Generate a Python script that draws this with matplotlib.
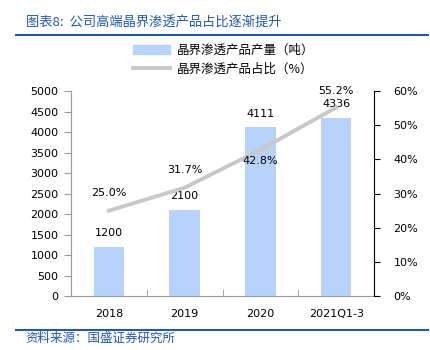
import numpy as np
import matplotlib.pyplot as plt
from matplotlib.lines import Line2D

plt.rcParams['font.family'] = ['DejaVu Sans', 'Noto Sans CJK SC']

categories = ['2018', '2019', '2020', '2021Q1-3']
output = [1200, 2100, 4111, 4336]
share = [25.0, 31.7, 42.8, 55.2]
share_offset = [13, 13, -8, 12]   # label offsets in points (above / below the line)

blue = '#2458A8'
bar_color = '#B7D3FB'
line_color = '#C8C8C8'
cjk = ['Noto Sans CJK SC', 'DejaVu Sans']

fig = plt.figure(figsize=(4.3, 3.5), dpi=100)
ax = fig.add_axes([0.165, 0.154, 0.705, 0.586])
ax2 = ax.twinx()

x = np.arange(len(categories))
ax.bar(x, output, width=0.40, color=bar_color, zorder=2)
ax.set_xlim(-0.5, 3.5)
ax.set_ylim(0, 5000)
ax.set_yticks(np.arange(0, 5001, 500))
ax.set_xticks(x)
ax.set_xticklabels(categories)
ax.set_xticks(x[:-1] + 0.5, minor=True)
ax.tick_params(axis='x', which='major', length=0, pad=9, labelsize=8)
ax.tick_params(axis='x', which='minor', direction='in', length=5, color='#999999')
ax.tick_params(axis='y', direction='out', length=5, color='#999999', labelsize=8, pad=4)

for xi, v in zip(x, output):
    ax.annotate(str(v), (xi, v), xytext=(0, 10), textcoords='offset points',
                ha='center', va='center', fontsize=8)

ax2.plot(x, share, color=line_color, lw=2.8, zorder=3)
ax2.set_ylim(0, 60)
ax2.set_yticks(np.arange(0, 61, 10))
ax2.set_yticklabels([f'{t}%' for t in range(0, 61, 10)])
ax2.tick_params(axis='y', direction='out', length=4, labelsize=8, pad=10)
for yl in ax2.get_yticklabels():
    yl.set_horizontalalignment('left')
for xi, v, off in zip(x, share, share_offset):
    ax2.annotate(f'{v:.1f}%', (xi, v), xytext=(0, off), textcoords='offset points',
                 ha='center', va='center', fontsize=8)

for a in (ax, ax2):
    a.spines['top'].set_visible(False)
ax.spines['left'].set_color('#999999')
ax.spines['bottom'].set_color('#999999')
ax.spines['right'].set_visible(False)
ax2.spines['left'].set_visible(False)
ax2.spines['bottom'].set_visible(False)
ax2.spines['right'].set_color('black')

handles = [plt.Rectangle((0, 0), 1, 1, color=bar_color),
           Line2D([0], [0], color=line_color, lw=2.8)]
fig.legend(handles, ['晶界渗透产品产量（吨）', '晶界渗透产品占比（%）'],
           loc='center', bbox_to_anchor=(0.52, 0.829), frameon=False,
           handlelength=3.0, handleheight=0.8, labelspacing=0.45, handletextpad=0.5,
           prop={'family': cjk, 'size': 9})

fig.text(0.06, 0.937, '图表8:  公司高端晶界渗透产品占比逐渐提升', color=blue,
         fontsize=9.5, style='italic', va='center', family=cjk)
fig.add_artist(Line2D([0.037, 0.995], [0.9, 0.9], color=blue, lw=1.5))
fig.add_artist(Line2D([0.037, 0.995], [0.057, 0.057], color=blue, lw=1.5))
fig.text(0.06, 0.033, '资料来源：国盛证券研究所', color=blue, fontsize=9,
         style='italic', va='center', family=cjk)

fig.savefig('out.png', dpi=100)
